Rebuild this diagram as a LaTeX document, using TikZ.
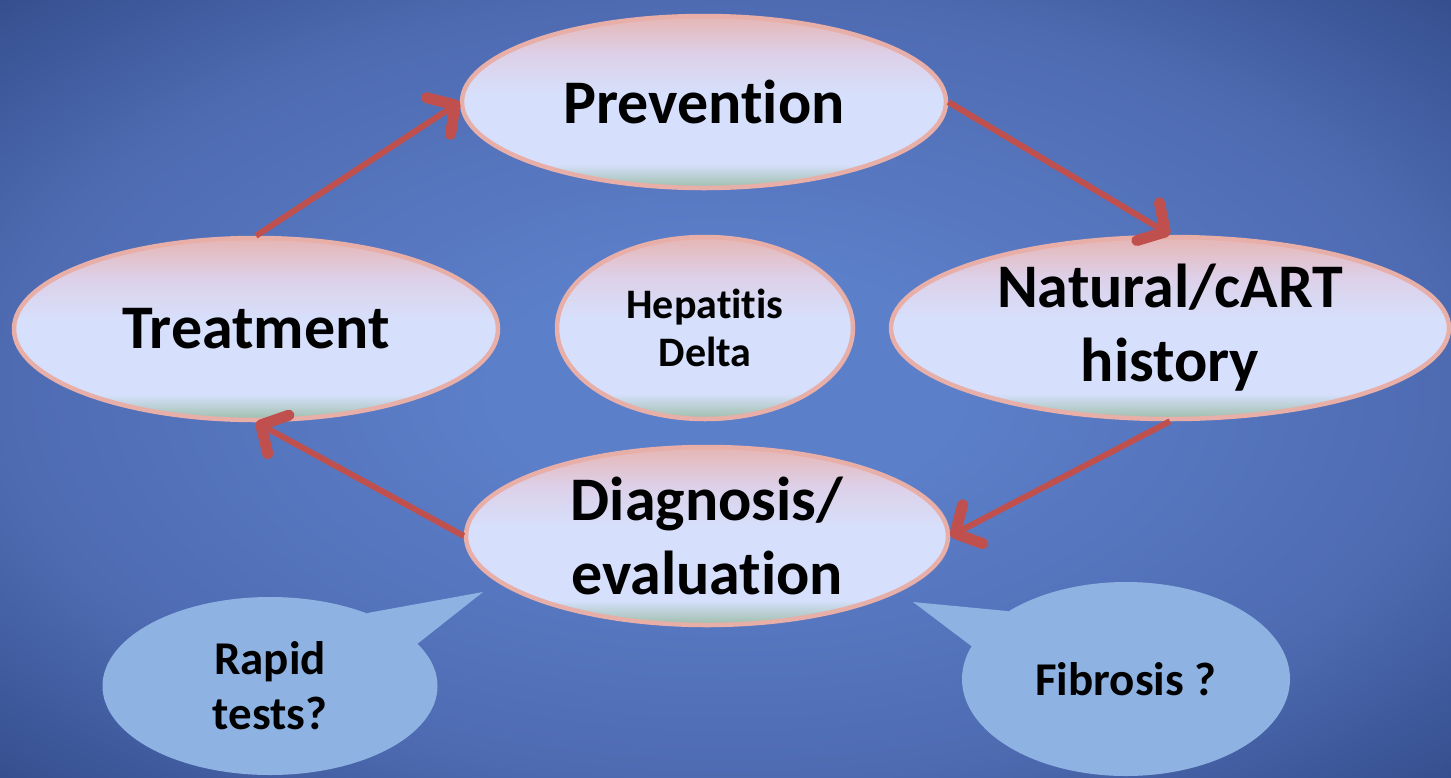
\documentclass[tikz,border=0pt]{standalone}
\usepackage{fontspec}
\setmainfont[Ligatures=NoCommon]{Carlito}
\usetikzlibrary{shapes.geometric,arrows.meta}

\definecolor{bgin}{RGB}{92,127,201}
\definecolor{bgmid}{RGB}{78,107,178}
\definecolor{bgout}{RGB}{52,78,140}
\definecolor{pinktop}{RGB}{230,182,180}
\definecolor{lavender}{RGB}{221,208,232}
\definecolor{paleblue}{RGB}{214,224,252}
\definecolor{sage}{RGB}{158,190,170}
\definecolor{rimpink}{RGB}{232,174,168}
\definecolor{arrowred}{RGB}{192,80,77}
\definecolor{calloutblue}{RGB}{142,179,226}

% soft radial backdrop
\pgfdeclareradialshading{backdrop}{\pgfpoint{0bp}{0bp}}{%
  color(0bp)=(bgin); color(8bp)=(bgin); color(25bp)=(bgmid);
  color(36bp)=(bgout); color(50bp)=(bgout)}

% stage fill: pink on top, pale blue body, a thin sage band at the bottom
\pgfdeclareverticalshading{stagefill}{100bp}{%
  color(0bp)=(sage); color(25bp)=(sage); color(32bp)=(paleblue);
  color(52bp)=(paleblue); color(64bp)=(lavender); color(75bp)=(pinktop);
  color(100bp)=(pinktop)}

\tikzset{
  stage/.style={ellipse, draw=rimpink, line width=4.5pt, shading=stagefill,
    inner sep=-12pt, align=center, text=black,
    font=\bfseries\fontsize{62}{74}\selectfont},
  small stage/.style={stage, font=\bfseries\fontsize{42}{48}\selectfont},
  callout/.style={ellipse, fill=calloutblue, draw=none, inner sep=-12pt,
    align=center, text=black, font=\bfseries\fontsize{47}{55}\selectfont},
  flow/.style={draw=arrowred, line width=6pt,
    -{Straight Barb[length=20pt,width=44pt,line width=11pt,round]}},
}

\begin{document}
\begin{tikzpicture}[x=1pt,y=-1pt]
  \useasboundingbox (0,0) rectangle (1451,777);
  \shade[shading=backdrop] (0,0) rectangle (1451,777);

  % speech callouts
  \node[callout, minimum width=335pt, minimum height=178pt] (rapid) at (270,686)
    {Rapid\\tests?};
  \coordinate (rapidtip) at (483,592);
  \fill[calloutblue] (rapid.37) -- (rapidtip) -- (rapid.16) -- cycle;

  \node[callout, minimum width=328pt, minimum height=194pt] (fib) at (1126,679)
    {Fibrosis ?};
  \coordinate (fibtip) at (913,602);
  \fill[calloutblue] (fib.150) -- (fibtip) -- (fib.168) -- cycle;

  % cycle stages
  \node[stage, minimum width=484pt, minimum height=172pt] (prev) at (704,102)
    {Prevention};
  \node[stage, minimum width=484pt, minimum height=182pt] (treat) at (256,329)
    {Treatment};
  \node[small stage, minimum width=296pt, minimum height=182pt] (hep) at (705,328)
    {Hepatitis\\Delta};
  \node[stage, minimum width=558pt, minimum height=182pt] (nat) at (1170,328)
    {Natural/cART\\history};
  \node[stage, minimum width=482pt, minimum height=178pt] (diag) at (707,536)
    {Diagnosis/\\evaluation};

  % cycle arrows
  \draw[flow] (treat.north) -- (prev.west);
  \draw[flow] (prev.east) -- (nat.north);
  \draw[flow] (nat.south) -- (diag.east);
  \draw[flow] (diag.west) -- (treat.south);
\end{tikzpicture}
\end{document}
